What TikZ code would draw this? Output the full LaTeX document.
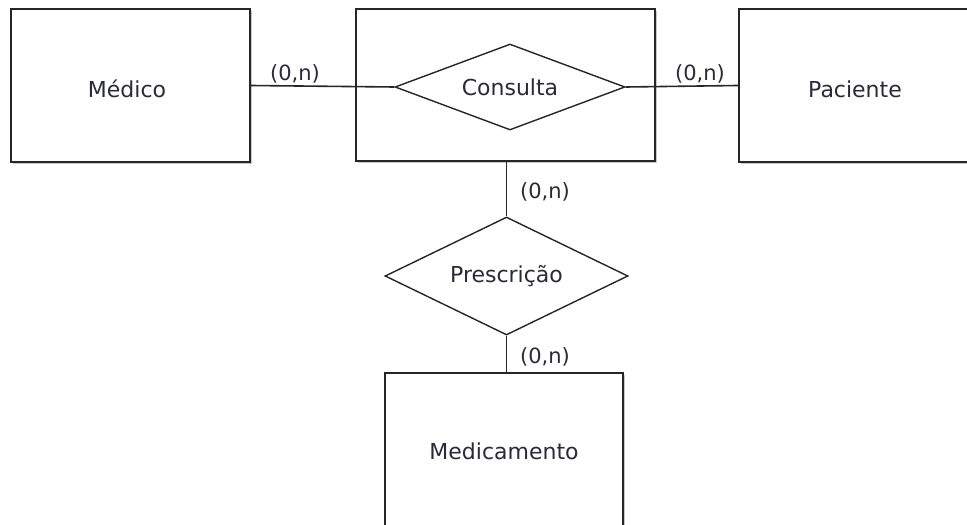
\documentclass[tikz,border=0pt]{standalone}
\usepackage{fontspec}
\setmainfont{DejaVu Sans}
\usetikzlibrary{shapes.geometric,shadows}
\definecolor{ink}{HTML}{262626}
\definecolor{txt}{HTML}{2A2A38}
\begin{document}
\begin{tikzpicture}[x=1pt,y=-1pt,
  entity/.style={draw=ink,line width=2.2pt,fill=white,rectangle,inner sep=0pt,
    drop shadow={shadow xshift=1.6pt,shadow yshift=-1.6pt,fill=gray!55,opacity=0.8},
    font=\fontsize{22}{26}\selectfont,text=txt},
  rel/.style={draw=ink,line width=1.4pt,fill=white,diamond,inner sep=0pt,
    font=\fontsize{22}{26}\selectfont,text=txt},
  card/.style={font=\fontsize{21}{25}\selectfont,text=txt,inner sep=0pt},
  conn/.style={draw=ink,line width=1.6pt}]
\useasboundingbox (0,0) rectangle (967,525);
\node[entity,minimum width=239pt,minimum height=153pt] (med) at (130.5,85.5) {};
\node[text=txt,font=\fontsize{22}{26}\selectfont] (medt) at (127,89) {Médico};
\node[entity,minimum width=299pt,minimum height=152pt] (consbox) at (505.5,85) {};
\node[entity,minimum width=232pt,minimum height=153pt] (pac) at (855,85.5) {};
\node[text=txt,font=\fontsize{22}{26}\selectfont] (pact) at (855,89) {Paciente};
\node[entity,minimum width=238pt,minimum height=157pt] (medic) at (504,451.5) {Medicamento};
\node[rel,aspect=2.67,minimum width=230pt,minimum height=86pt] (cons) at (510,87) {Consulta};
\node[rel,aspect=2.06,minimum width=243pt,minimum height=118pt] (presc) at (506.5,276) {Prescrição};
\draw[conn] (med.east) -- (cons.west);
\draw[conn] (cons.east) -- (pac.west);
\draw[conn] (consbox.south -| presc.north) -- (presc.north);
\draw[conn] (presc.south) -- (presc.south |- medic.north);
\node[card] (c1) at (295,74) {(0,n)};
\node[card] (c2) at (700,74) {(0,n)};
\node[card] (c3) at (545,192) {(0,n)};
\node[card] (c4) at (545,357) {(0,n)};
\end{tikzpicture}
\end{document}
